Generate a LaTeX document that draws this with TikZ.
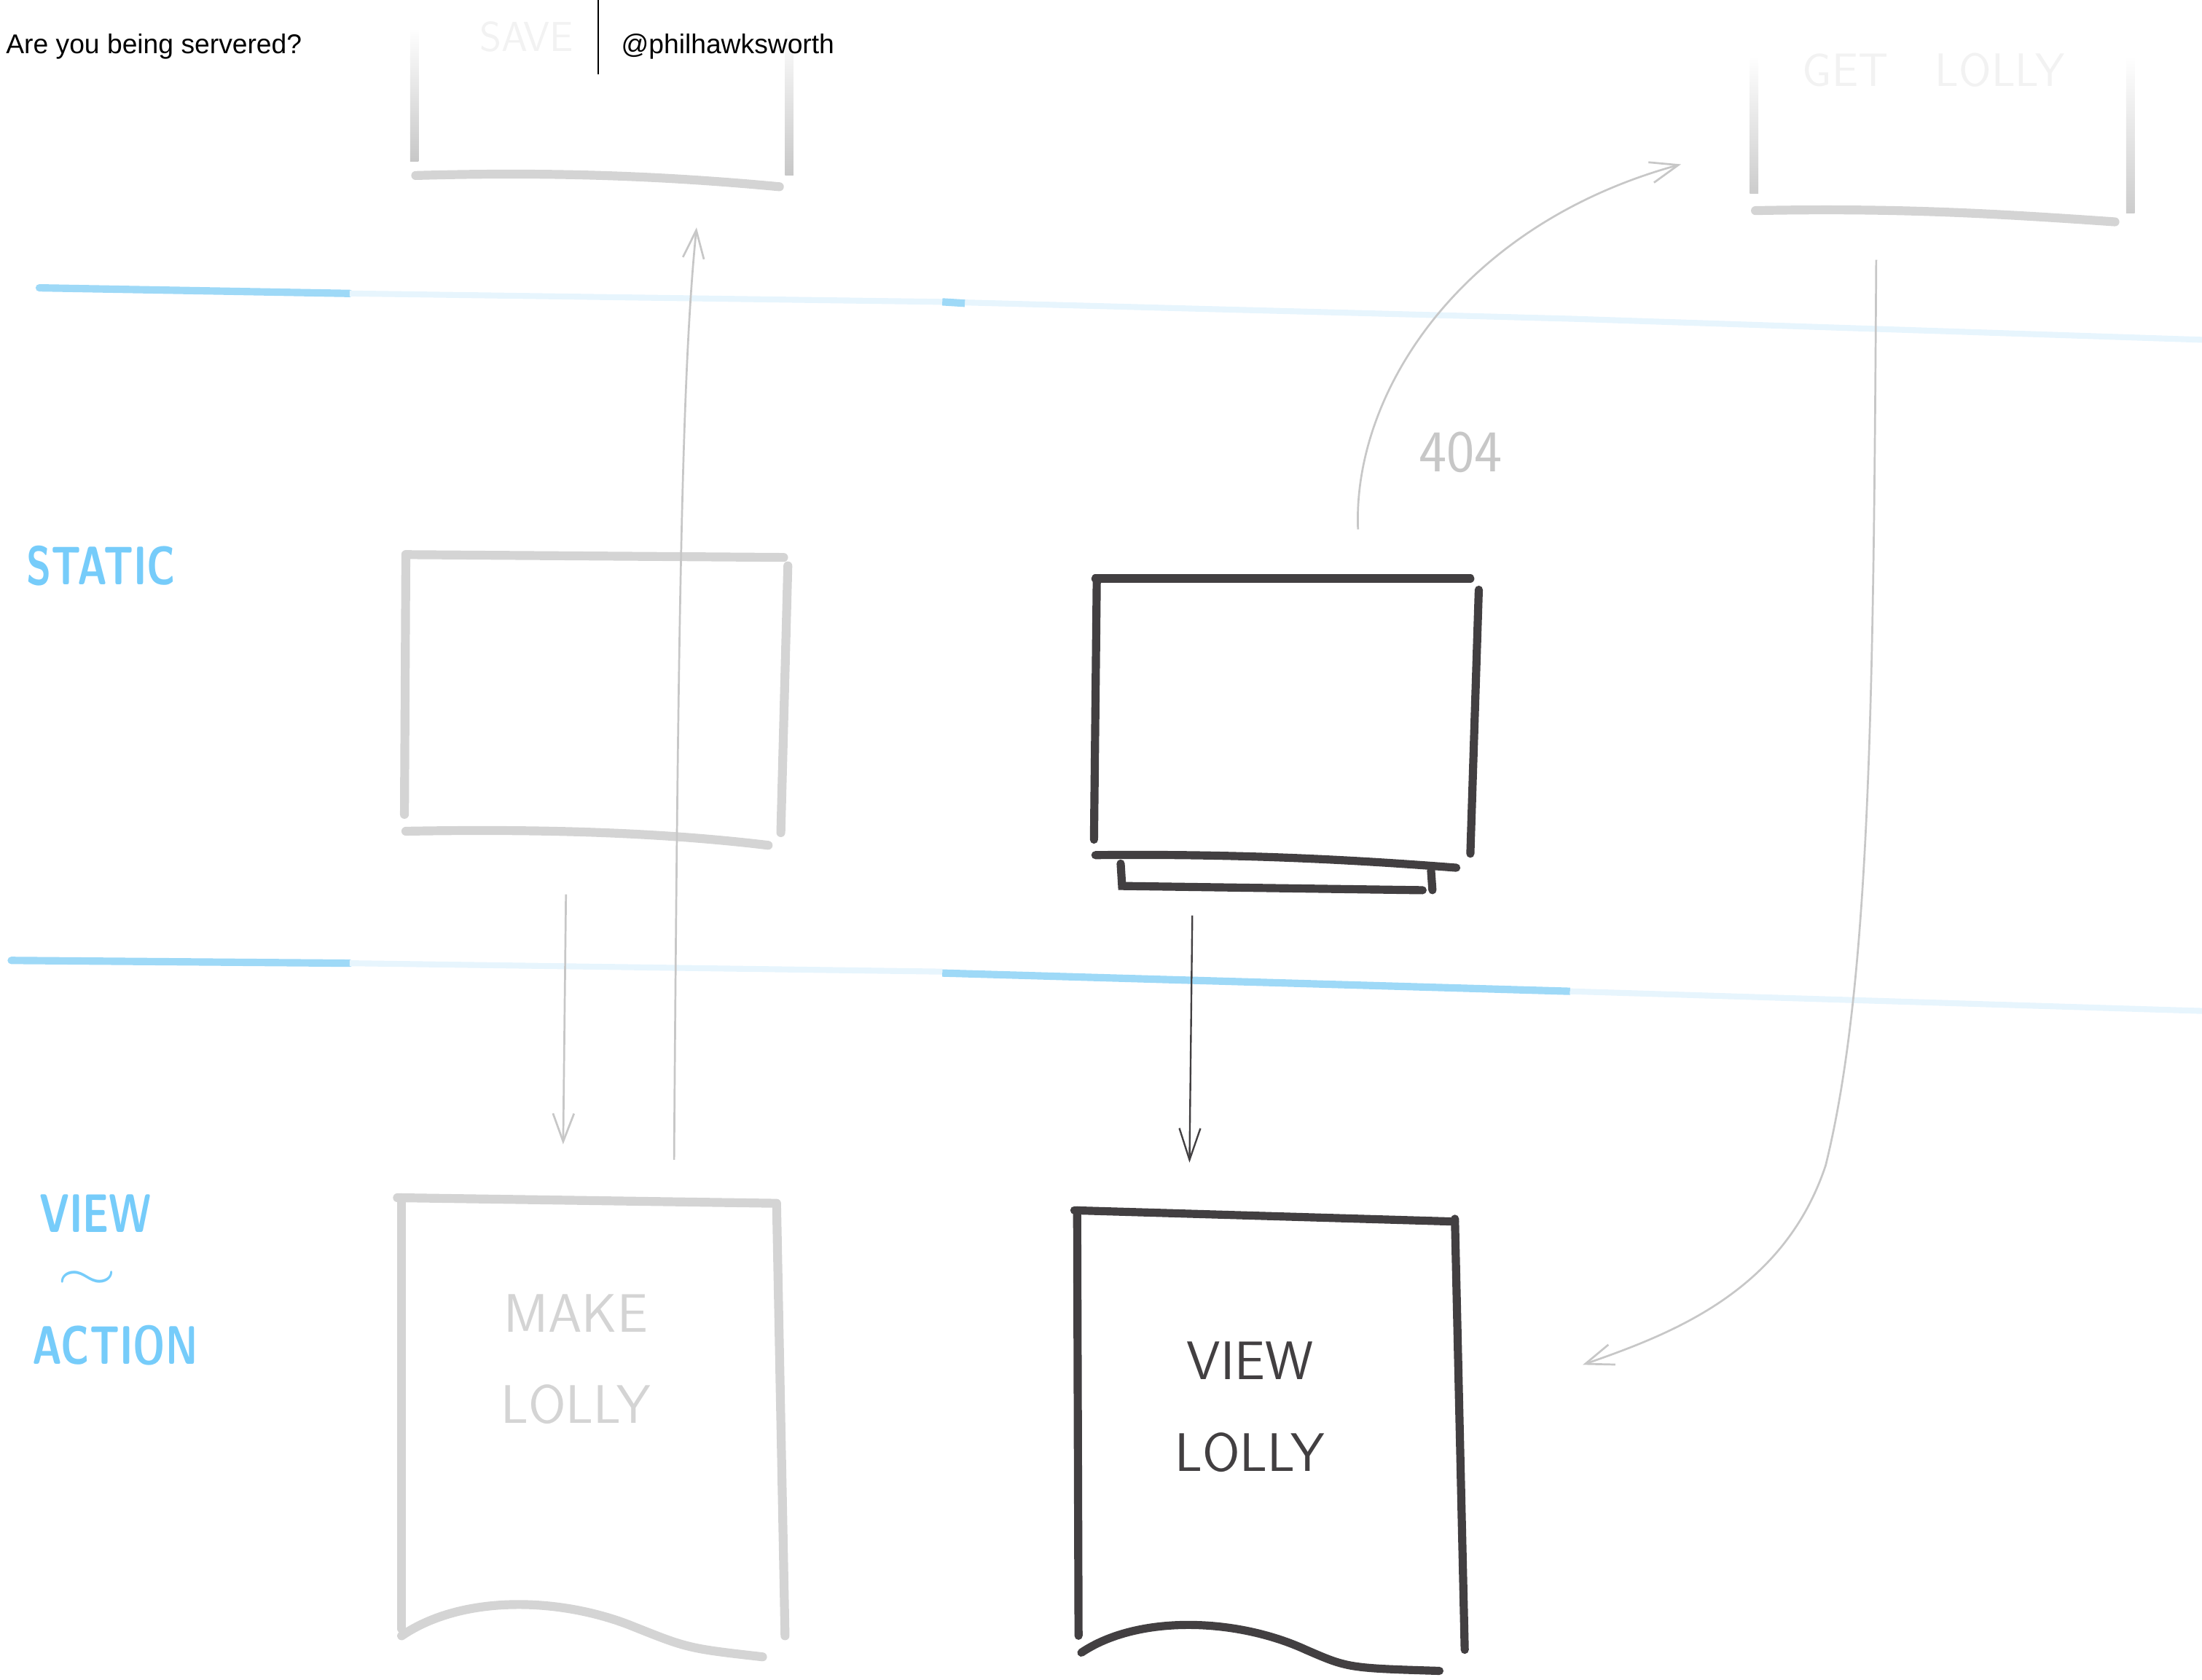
\documentclass[tikz,border=0pt]{standalone}
\usepackage{fontspec}
\setmainfont{Liberation Sans}
\usetikzlibrary{arrows.meta, positioning}
\definecolor{inkdark}{RGB}{66,63,65}
\definecolor{inklight}{RGB}{212,212,212}
\definecolor{inkfaint}{RGB}{242,242,242}
\definecolor{inkblue}{RGB}{118,204,250}
\definecolor{lanestrong}{RGB}{158,217,247}
\definecolor{lanefaint}{RGB}{231,245,253}

\tikzset{
  greystroke/.style={draw=inklight, line width=3.6pt, line cap=round},
  darkstroke/.style={draw=inkdark, line width=3.3pt, line cap=round},
  greyflow/.style={draw=black!22, line width=0.8pt, -{Straight Barb[length=4mm, width=3mm]}},
  darkflow/.style={draw=inkdark, line width=0.7pt, -{Straight Barb[length=4.5mm, width=3mm]}},
  lanehard/.style={draw=lanestrong, line width=3pt, line cap=round},
  lanesoft/.style={draw=lanefaint, line width=2.4pt},
  scrawl/.style={font=\sffamily\fontsize{22}{37}\selectfont, align=center},
  bluescrawl/.style={text=inkblue, inner sep=0pt, xscale=0.75, font=\sffamily\bfseries\fontsize{22}{22}\selectfont},
}

\begin{document}
\begin{tikzpicture}[x=0.02cm, y=-0.02cm]
  \useasboundingbox (0,0) rectangle (1568,1196);

  % swim lanes
  \draw[lanehard] (28,205) -- (249,209);
  \draw[lanesoft] (249,209) -- (671,215) -- (1118,227) -- (1568,242);
  \draw[lanehard, line cap=butt] (671,215) -- (687,216);
  \draw[lanehard] (8,684) -- (249,686);
  \draw[lanesoft] (249,686) -- (671,692);
  \draw[lanehard, line cap=butt] (671,693) -- (1118,706);
  \draw[lanesoft] (1118,706) -- (1568,720);

  % lane labels
  \node[bluescrawl] (staticLbl) at (72,403) {STATIC};
  \node[bluescrawl] (viewLbl) at (68,864) {VIEW};
  \node[text=inkblue, inner sep=0pt, xscale=1.5, font=\fontsize{20}{20}\selectfont] (tildeLbl) at (62,912) {$\sim$};
  \node[bluescrawl] (actionLbl) at (82,958) {ACTION};

  % save box (cut off at the top)
  \shade[top color=white, bottom color=black!22] (292,20) rectangle (298,115);
  \shade[top color=white, bottom color=black!22] (559,20) rectangle (565,125);
  \draw[greystroke] (296,125) .. controls (400,122) and (480,126) .. (555,133);
  \node[text=inkfaint, font=\sffamily\fontsize{17}{17}\selectfont] (saveLbl) at (375,26) {SAVE};

  % get lolly box
  \shade[top color=white, bottom color=black!20] (1246,40) rectangle (1252,138);
  \shade[top color=white, bottom color=black!20] (1514,40) rectangle (1520,152);
  \draw[greystroke] (1250,150) .. controls (1350,148) and (1420,152) .. (1506,158);
  \node[text=inkfaint, font=\sffamily\fontsize{19}{19}\selectfont] (getLbl) at (1377,50) {GET\quad LOLLY};

  % static page
  \draw[greystroke] (289,395) -- (558,397);
  \draw[greystroke] (289,395) -- (288,580);
  \draw[greystroke] (561,403) -- (556,593);
  \draw[greystroke] (289,592) .. controls (400,590) and (480,594) .. (547,602);

  % built page (dark, stacked)
  \draw[darkstroke] (780,412) -- (1047,412);
  \draw[darkstroke] (781,412) -- (779,598);
  \draw[darkstroke] (1053,420) -- (1047,608);
  \draw[darkstroke] (780,609) .. controls (880,608) and (960,612) .. (1037,618);
  \draw[darkstroke] (798,615) -- (799,631) -- (1013,634);
  \draw[darkstroke] (1019,620) -- (1020,634);

  % make lolly view
  \draw[greystroke] (283,853) -- (553,857);
  \draw[greystroke] (286,853) -- (286,1160);
  \draw[greystroke] (553,858) -- (559,1165);
  \draw[greystroke] (286,1165) .. controls (330,1135) and (400,1138) .. (450,1158) .. controls (490,1174) .. (543,1180);
  \node[scrawl, text=inklight] (makeLbl) at (410,968) {MAKE\\LOLLY};

  % view lolly view
  \draw[darkstroke] (765,862) -- (1036,870);
  \draw[darkstroke] (767,862) -- (768,1165);
  \draw[darkstroke] (1036,868) -- (1043,1175);
  \draw[darkstroke] (770,1177) .. controls (810,1150) and (880,1152) .. (930,1175) .. controls (960,1188) .. (1025,1190);
  \node[scrawl, text=inkdark] (viewLollyLbl) at (890,1002) {VIEW\\LOLLY};

  % flows
  \coordinate (makeTop) at (480,826);
  \coordinate (saveFoot) at (496,162);
  \coordinate (staticFoot) at (403,637);
  \coordinate (makeHead) at (401,815);
  \coordinate (builtFoot) at (849,652);
  \coordinate (viewHead) at (847,828);
  \coordinate (missTail) at (967,377);
  \coordinate (getSide) at (1197,117);
  \coordinate (getFoot) at (1336,185);
  \coordinate (viewSide) at (1127,972);

  \draw[greyflow] (makeTop) .. controls (483,420) and (486,260) .. (saveFoot);
  \draw[greyflow] (staticFoot) -- (makeHead);
  \draw[darkflow] (builtFoot) -- (viewHead);
  \draw[greyflow] (missTail) .. controls (963,280) and (1040,160) .. (getSide);
  \draw[greyflow] (getFoot) .. controls (1334,500) and (1332,700) .. (1300,830) .. controls (1270,920) and (1190,950) .. (viewSide);
  \node[text=black!22, font=\sffamily\fontsize{24}{24}\selectfont] (codeLbl) at (1040,322) {404};

  % header
  \node[anchor=west, inner sep=0pt, font=\fontsize{11}{13}\selectfont] (title) at (4,33) {Are you being servered?};
  \node[anchor=west, inner sep=0pt, font=\fontsize{11}{13}\selectfont] (handle) at (442,33) {@philhawksworth};
  \draw[line width=0.6pt] (426,0) -- (426,53);
\end{tikzpicture}
\end{document}
